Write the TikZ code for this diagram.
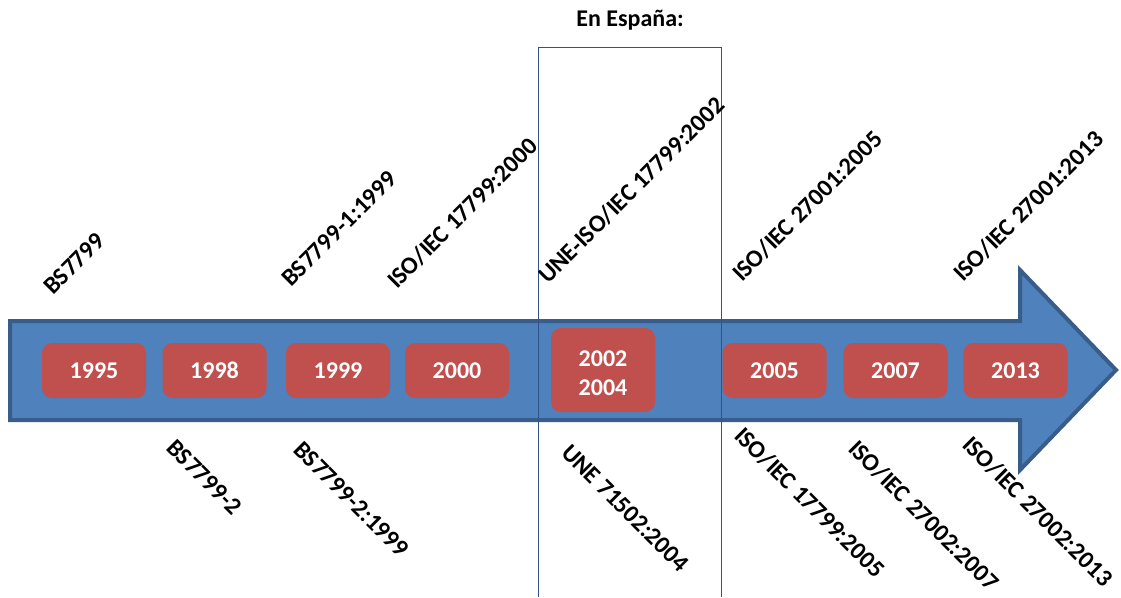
\documentclass[tikz,border=0pt]{standalone}
\usepackage{fontspec}
\setmainfont{Carlito}
\definecolor{arrowfill}{HTML}{4F81BD}
\definecolor{arrowline}{HTML}{385D8A}
\definecolor{yearfill}{HTML}{C0504D}
\definecolor{frameline}{HTML}{2E548A}
\tikzset{
  yearbox/.style={fill=yearfill, rounded corners=10pt, minimum width=104pt,
    minimum height=55pt, inner sep=0pt, text=white, align=center,
    font=\bfseries\fontsize{24}{29}\selectfont},
  uplabel/.style={rotate=45, anchor=base west, inner sep=0pt,
    font=\bfseries\fontsize{24.5}{29}\selectfont},
  downlabel/.style={rotate=-45, anchor=base west, inner sep=0pt,
    font=\bfseries\fontsize{24.5}{29}\selectfont},
}
\begin{document}
\begin{tikzpicture}[x=1pt, y=-1pt]
\useasboundingbox (0,0) rectangle (1121,597);

% timeline arrow
\path[fill=arrowfill, draw=arrowline, line width=4pt, miter limit=10]
  (10,321) -- (1020,321) -- (1020,270) -- (1116,370) -- (1020,470)
  -- (1020,420) -- (10,420) -- cycle;

% frame for the Spanish standards
\draw[frameline, line width=1pt] (538,597) -- (538,47) -- (721,47) -- (721,597);
\node[font=\bfseries\fontsize{24}{29}\selectfont] (spain) at (630,20) {En España:};

% years
\node[yearbox] (y1995) at (94,370.5) {1995};
\node[yearbox] (y1998) at (214.5,370.5) {1998};
\node[yearbox] (y1999) at (338,370.5) {1999};
\node[yearbox] (y2000) at (457,370.5) {2000};
\node[yearbox, minimum height=84pt] (y2002) at (603,370) {};
\node[text=white, font=\bfseries\fontsize{24}{29}\selectfont, align=center]
  (y2002txt) at (603,373) {2002\\2004};
\node[yearbox] (y2005) at (774.5,370.5) {2005};
\node[yearbox] (y2007) at (895.5,370.5) {2007};
\node[yearbox] (y2013) at (1015.5,370.5) {2013};

% standards above the timeline
\node[uplabel] (bs7799) at (53,296) {BS7799};
\node[uplabel] (bs77991) at (291,288) {BS7799-1:1999};
\node[uplabel] (iso17799a) at (397,290) {ISO/IEC 17799:2000};
\node[uplabel] (une17799) at (548,285) {UNE-ISO/IEC 17799:2002};
\node[uplabel] (iso27001a) at (742,283) {ISO/IEC 27001:2005};
\node[uplabel] (iso27001b) at (963,283) {ISO/IEC 27001:2013};

% standards below the timeline
\node[downlabel] (bs77992) at (165,449) {BS7799-2};
\node[downlabel] (bs77992b) at (292,451) {BS7799-2:1999};
\node[downlabel] (une71502) at (560,454) {UNE 71502:2004};
\node[downlabel] (iso17799b) at (733,437) {ISO/IEC 17799:2005};
\node[downlabel] (iso27002a) at (847,450) {ISO/IEC 27002:2007};
\node[downlabel] (iso27002b) at (961,446) {ISO/IEC 27002:2013};
\end{tikzpicture}
\end{document}
